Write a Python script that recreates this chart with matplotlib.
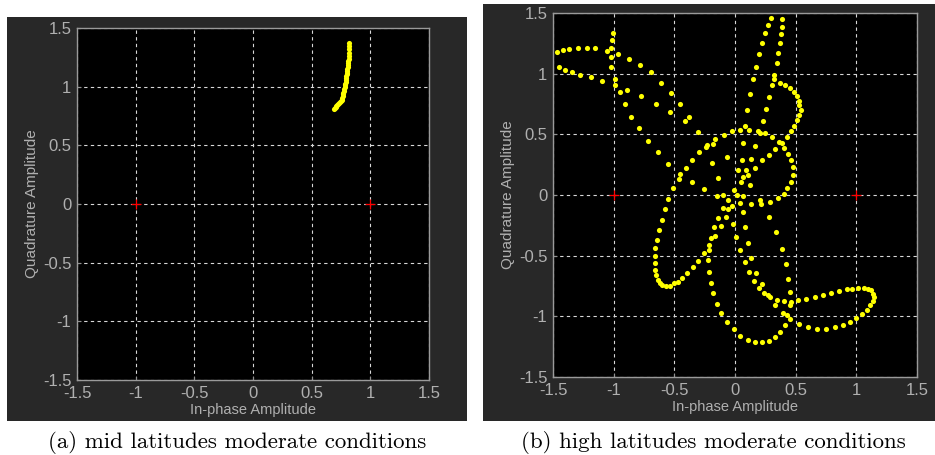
import numpy as np
import matplotlib
matplotlib.use('Agg')
import matplotlib.pyplot as plt
from matplotlib.patches import Rectangle

# reference constellation points (BPSK)
ref_pts = [(-1.0, 0.0), (1.0, 0.0)]

# (a) mid latitudes - received symbols
mid_pts = [
    (0.690, 0.810), (0.697, 0.818), (0.704, 0.826), (0.711, 0.834), (0.718, 0.842),
    (0.726, 0.850), (0.734, 0.858), (0.742, 0.866), (0.750, 0.876), (0.755, 0.890),
    (0.759, 0.905), (0.763, 0.920), (0.767, 0.935), (0.771, 0.950), (0.775, 0.965),
    (0.778, 0.980), (0.781, 0.995), (0.784, 1.010), (0.787, 1.025), (0.790, 1.040),
    (0.792, 1.056), (0.794, 1.072), (0.796, 1.088), (0.798, 1.104), (0.800, 1.120),
    (0.802, 1.136), (0.804, 1.152), (0.806, 1.168), (0.808, 1.184), (0.810, 1.200),
    (0.812, 1.220), (0.814, 1.240), (0.816, 1.265), (0.818, 1.290), (0.820, 1.320),
    (0.821, 1.345), (0.822, 1.370),
]

# (b) high latitudes - received symbols
high_pts = [
    (-1.470, 1.180), (-1.421, 1.196), (-1.366, 1.204), (-1.292, 1.213), (-1.221, 1.213),
    (-1.150, 1.213), (-1.059, 1.188), (-1.026, 1.215), (-1.015, 1.278), (-1.009, 1.333),
    (-1.026, 1.141), (-0.968, 1.163), (-0.872, 1.125), (-0.782, 1.075), (-0.694, 1.010),
    (-0.606, 0.927), (-0.524, 0.840), (-0.532, 0.680), (-0.653, 0.754), (-0.776, 0.818),
    (-0.889, 0.864), (-0.944, 0.848), (-0.993, 0.905), (-0.993, 0.960), (-1.018, 1.053),
    (-1.100, 0.938), (-1.188, 0.971), (-1.278, 0.993), (-1.342, 1.010), (-1.405, 1.034),
    (-1.449, 1.051), (-0.903, 0.754), (-0.856, 0.645), (-0.790, 0.549), (-0.716, 0.444),
    (-0.636, 0.357), (-0.549, 0.258), (-0.508, 0.058),
    (0.296, 1.457), (0.384, 1.449), (0.272, 1.405), (0.384, 1.388), (0.247, 1.333),
    (0.376, 1.325), (0.222, 1.254), (0.370, 1.254), (0.198, 1.163), (0.354, 1.174),
    (0.173, 1.059), (0.346, 1.084), (0.151, 0.955), (0.321, 0.993), (0.321, 0.955),
    (0.307, 0.908), (0.370, 0.927), (0.412, 0.908), (0.450, 0.881), (0.483, 0.848),
    (0.510, 0.812), (0.524, 0.771), (0.529, 0.743), (0.543, 0.702), (0.529, 0.656),
    (0.126, 0.834), (0.280, 0.809), (0.102, 0.697), (0.255, 0.711), (0.230, 0.606),
    (0.508, 0.620), (0.488, 0.565), (0.461, 0.524), (-0.450, 0.746), (-0.379, 0.639),
    (-0.409, 0.606), (-0.302, 0.519), (-0.093, 0.491), (-0.027, 0.527), (0.044, 0.532),
    (0.085, 0.565), (0.118, 0.535), (0.187, 0.524), (0.203, 0.508), (0.250, 0.508),
    (0.305, 0.477), (0.428, 0.475), (-0.165, 0.461), (-0.184, 0.420), (-0.228, 0.409),
    (-0.241, 0.392), (-0.296, 0.357), (-0.351, 0.291), (-0.406, 0.219), (-0.450, 0.176),
    (-0.458, 0.134), (-0.351, 0.104), (-0.252, 0.049), (-0.137, 0.140), (-0.192, 0.266),
    (-0.069, 0.316), (0.069, 0.428), (0.165, 0.403), (0.060, 0.288), (0.129, 0.299),
    (0.225, 0.285), (0.283, 0.332), (0.326, 0.379), (0.365, 0.433), (0.384, 0.428),
    (0.403, 0.387), (0.439, 0.340), (0.464, 0.285), (0.477, 0.228), (0.475, 0.162),
    (0.458, 0.104), (0.431, 0.058), (0.027, 0.203), (0.091, 0.203), (0.110, 0.167),
    (0.063, 0.145), (0.049, 0.104), (0.126, 0.080), (-0.005, 0.044), (0.167, 0.222),
    (-0.549, -0.033), (-0.579, -0.115), (-0.604, -0.203), (-0.626, -0.285), (-0.645, -0.368),
    (-0.661, -0.439), (-0.661, -0.505), (-0.658, -0.562), (-0.658, -0.617), (-0.653, -0.656),
    (-0.636, -0.702), (-0.620, -0.724), (-0.598, -0.738), (-0.571, -0.746), (-0.538, -0.746),
    (-0.505, -0.727),
    (-0.151, -0.011), (-0.102, 0.003), (-0.055, -0.038), (0.014, 0.003), (0.063, -0.005),
    (0.206, -0.044), (0.214, -0.071), (0.288, -0.058), (0.351, -0.025), (0.401, 0.008),
    (-0.102, -0.107), (-0.060, -0.115), (-0.027, -0.088), (0.044, -0.066), (0.134, -0.074),
    (-0.143, -0.187), (-0.077, -0.178), (0.069, -0.140), (0.280, -0.178), (-0.173, -0.266),
    (-0.118, -0.258), (-0.019, -0.236), (0.085, -0.266), (-0.198, -0.354), (-0.165, -0.340),
    (0.011, -0.348), (0.337, -0.307), (-0.214, -0.414), (-0.214, -0.450), (0.110, -0.398),
    (0.044, -0.455), (0.384, -0.447), (-0.255, -0.480), (-0.222, -0.535), (0.134, -0.519),
    (0.085, -0.551), (0.417, -0.568), (-0.305, -0.543), (-0.346, -0.590), (-0.214, -0.634),
    (0.118, -0.634), (0.176, -0.642), (-0.392, -0.642), (-0.433, -0.680), (-0.466, -0.713),
    (0.159, -0.705), (0.439, -0.689), (-0.198, -0.724), (0.225, -0.735), (0.198, -0.763),
    (-0.181, -0.809), (0.241, -0.807), (0.272, -0.826), (0.291, -0.842), (0.450, -0.801),
    (0.346, -0.867), (0.401, -0.875), (0.458, -0.878), (0.326, -0.905), (0.450, -0.908),
    (-0.151, -0.900), (-0.112, -0.971), (0.392, -0.971), (0.431, -0.993), (0.455, -1.021),
    (0.412, -1.070), (-0.063, -1.045), (-0.005, -1.108), (0.370, -1.133), (0.044, -1.158),
    (0.329, -1.174), (0.110, -1.191), (0.280, -1.207), (0.167, -1.215), (0.225, -1.215),
    (0.521, -0.867), (0.587, -0.859), (0.661, -0.842), (0.727, -0.826), (0.793, -0.809),
    (0.856, -0.793), (0.919, -0.776), (0.968, -0.771), (1.015, -0.763), (1.064, -0.763),
    (1.097, -0.771), (1.117, -0.785), (1.136, -0.815), (1.147, -0.840), (1.139, -0.875),
    (1.114, -0.908), (1.089, -0.949), (1.048, -0.982), (1.001, -1.012), (0.944, -1.045),
    (0.886, -1.070), (0.823, -1.086), (0.752, -1.103), (0.678, -1.103), (0.604, -1.086),
    (0.530, -1.062),
]

ticks = [-1.5, -1, -0.5, 0, 0.5, 1, 1.5]
tick_labels = ['-1.5', '-1', '-0.5', '0', '0.5', '1', '1.5']
captions = ['(a) mid latitudes moderate conditions', '(b) high latitudes moderate conditions']

W, H = 935, 455
fig = plt.figure(figsize=(W / 100, H / 100), dpi=100)
fig.patch.set_facecolor('white')

# dark panel backgrounds (pixel boxes: left, top, right, bottom)
for (l, t, r, b) in [(7, 17, 467, 421), (483, 4, 935, 421)]:
    fig.patches.append(Rectangle((l / W, 1 - b / H), (r - l) / W, (b - t) / H,
                                 transform=fig.transFigure, facecolor='#282828',
                                 edgecolor='none', zorder=-5))

txt_col = '#b0b0b0'
axes_px = [(77, 28, 429, 380), (553, 13, 917, 377)]
for i, (l, t, r, b) in enumerate(axes_px):
    ax = fig.add_axes([l / W, 1 - b / H, (r - l) / W, (b - t) / H])
    ax.set_zorder(2)
    ax.set_facecolor('black')
    pts = np.array(mid_pts if i == 0 else high_pts)
    ax.plot(pts[:, 0], pts[:, 1], 'o', color='#ffff00', ms=3.7, mew=0, zorder=3)
    rp = np.array(ref_pts)
    ax.plot(rp[:, 0], rp[:, 1], '+', color='#ff0000', ms=7, mew=0.9, zorder=4)
    ax.set_xlim(-1.5, 1.5)
    ax.set_ylim(-1.5, 1.5)
    ax.set_xticks(ticks)
    ax.set_yticks(ticks)
    ax.set_xticklabels(tick_labels)
    ax.set_yticklabels(tick_labels)
    ax.grid(True, color='#d8d8d8', linestyle=(0, (3, 3)), linewidth=0.8)
    ax.set_axisbelow(True)
    ax.tick_params(direction='in', length=3, color='#909090', labelcolor=txt_col,
                   labelsize=12)
    ax.tick_params(axis='x', pad=4)
    ax.tick_params(axis='y', pad=4)
    for s in ax.spines.values():
        s.set_color('#9a9a9a')
        s.set_linewidth(1.0)
    ax.set_xlabel('In-phase Amplitude', color=txt_col, fontsize=10.5, labelpad=2)
    ax.set_ylabel('Quadrature Amplitude', color=txt_col, fontsize=11, labelpad=3)
    for lab in ax.get_xticklabels() + ax.get_yticklabels():
        lab.set_family('Liberation Sans')
    ax.xaxis.label.set_family('Liberation Sans')
    ax.yaxis.label.set_family('Liberation Sans')

fig.text(237 / W, 1 - 443 / H, captions[0], ha='center', va='center',
         family='cmr10', fontsize=16.5)
fig.text(713 / W, 1 - 443 / H, captions[1], ha='center', va='center',
         family='cmr10', fontsize=16.5)

fig.savefig('out.png', dpi=100, facecolor='white')
